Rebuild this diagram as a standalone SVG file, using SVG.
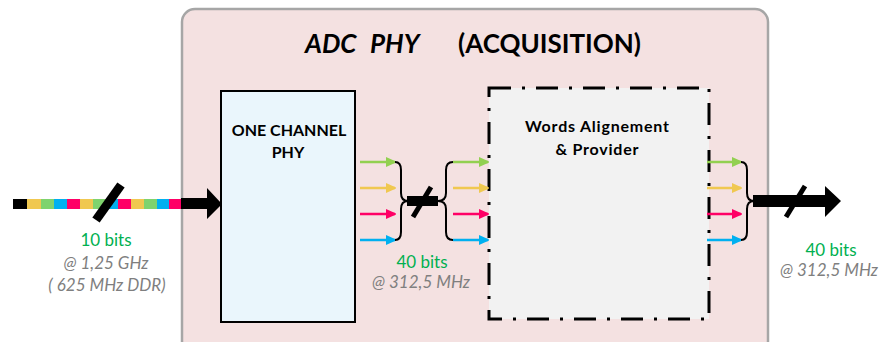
<svg xmlns="http://www.w3.org/2000/svg" width="882" height="342" viewBox="0 0 882 342">
<defs>
<style>
.t{font-family:Lato,"Open Sans",sans-serif}
.g{fill:#00b050;font-size:17px;text-anchor:middle}
.gr{fill:#7f7f7f;font-size:17px;font-style:italic;text-anchor:middle}
.bx{font-weight:bold;font-size:16px;text-anchor:middle;fill:#000}
.ti{font-size:26px;font-weight:bold}
.ar{stroke-width:2.5;fill:none}
.br{fill:none;stroke:#000;stroke-width:2}
</style>
<marker id="mg" markerWidth="10" markerHeight="10" refX="9" refY="5" orient="auto" markerUnits="userSpaceOnUse"><path d="M0,0 L11,5 L0,10 z" fill="#92d050"/></marker>
<marker id="my" markerWidth="10" markerHeight="10" refX="9" refY="5" orient="auto" markerUnits="userSpaceOnUse"><path d="M0,0 L11,5 L0,10 z" fill="#f0c850"/></marker>
<marker id="mp" markerWidth="10" markerHeight="10" refX="9" refY="5" orient="auto" markerUnits="userSpaceOnUse"><path d="M0,0 L11,5 L0,10 z" fill="#ff0066"/></marker>
<marker id="mb" markerWidth="10" markerHeight="10" refX="9" refY="5" orient="auto" markerUnits="userSpaceOnUse"><path d="M0,0 L11,5 L0,10 z" fill="#00b0f0"/></marker>
</defs>
<rect width="882" height="342" fill="#fff"/>
<g id="acquisition">
<rect x="182" y="9" width="586" height="345" rx="13" fill="#f4e1e1" stroke="#a6a6a6" stroke-width="2.5"/>
<text class="t ti" x="305" y="53" font-style="italic">ADC</text>
<text class="t ti" x="370" y="53" font-style="italic">PHY</text>
<text class="t ti" x="458" y="53">(ACQUISITION)</text>
</g>
<g id="one-channel-phy">
<rect x="221" y="91" width="134" height="231" fill="#eaf6fc" stroke="#000" stroke-width="2"/>
<text class="t bx" x="289" y="136">ONE CHANNEL</text>
<text class="t bx" x="288" y="158">PHY</text>
</g>
<g id="words-alignement">
<rect x="489" y="88" width="220" height="231" fill="#f2f2f2" stroke="#000" stroke-width="3" stroke-dasharray="22 11 3 11"/>
<text class="t bx" x="597" y="132" font-size="17" textLength="144" lengthAdjust="spacing">Words Alignement</text>
<text class="t bx" x="597" y="155" font-size="17" textLength="83" lengthAdjust="spacing">&amp; Provider</text>
</g>
<g id="connectors">
<g id="input-bus">
<rect x="13" y="199" width="14" height="10" fill="#000"/>
<rect x="27" y="199" width="14" height="10" fill="#f0c850"/>
<rect x="41" y="199" width="13" height="10" fill="#7fd36e"/>
<rect x="54" y="199" width="13" height="10" fill="#00b0f0"/>
<rect x="67" y="199" width="13" height="10" fill="#ff0066"/>
<rect x="80" y="199" width="13" height="10" fill="#f0c850"/>
<rect x="93" y="199" width="13" height="10" fill="#7fd36e"/>
<rect x="106" y="199" width="12" height="10" fill="#00b0f0"/>
<rect x="118" y="199" width="13" height="10" fill="#ff0066"/>
<rect x="131" y="199" width="13" height="10" fill="#f0c850"/>
<rect x="144" y="199" width="13" height="10" fill="#7fd36e"/>
<rect x="157" y="199" width="12" height="10" fill="#00b0f0"/>
<rect x="169" y="199" width="12" height="10" fill="#ff0066"/>
<path d="M181,198 L207,198 L207,188 L222,204 L207,219 L207,209 L181,209 z" fill="#000"/>
<line x1="121" y1="185" x2="96" y2="220" stroke="#000" stroke-width="9"/>
</g>
<g id="phy-out">
<line class="ar" x1="360" y1="162" x2="395" y2="162" stroke="#92d050" marker-end="url(#mg)"/>
<line class="ar" x1="360" y1="188" x2="395" y2="188" stroke="#f0c850" marker-end="url(#my)"/>
<line class="ar" x1="360" y1="214" x2="395" y2="214" stroke="#ff0066" marker-end="url(#mp)"/>
<line class="ar" x1="360" y1="240" x2="395" y2="240" stroke="#00b0f0" marker-end="url(#mb)"/>
<path class="br" d="M395,162 Q401,162 401,170 L401,193 Q401,201 408,201 Q401,201 401,209 L401,232 Q401,240 395,240"/>
<rect x="407" y="196" width="31" height="10" fill="#000"/>
<line x1="431" y1="187" x2="413" y2="217" stroke="#000" stroke-width="5"/>
<path class="br" d="M453,162 Q446,162 446,170 L446,193 Q446,201 438,201 Q446,201 446,209 L446,232 Q446,240 453,240"/>
<line class="ar" x1="453" y1="162" x2="488" y2="162" stroke="#92d050" marker-end="url(#mg)"/>
<line class="ar" x1="453" y1="188" x2="488" y2="188" stroke="#f0c850" marker-end="url(#my)"/>
<line class="ar" x1="453" y1="214" x2="488" y2="214" stroke="#ff0066" marker-end="url(#mp)"/>
<line class="ar" x1="453" y1="240" x2="488" y2="240" stroke="#00b0f0" marker-end="url(#mb)"/>
</g>
<g id="words-out">
<line class="ar" x1="707" y1="162" x2="741" y2="162" stroke="#92d050" marker-end="url(#mg)"/>
<line class="ar" x1="707" y1="188" x2="741" y2="188" stroke="#f0c850" marker-end="url(#my)"/>
<line class="ar" x1="707" y1="214" x2="741" y2="214" stroke="#ff0066" marker-end="url(#mp)"/>
<line class="ar" x1="707" y1="240" x2="741" y2="240" stroke="#00b0f0" marker-end="url(#mb)"/>
<path class="br" d="M741,162 Q747,162 747,170 L747,193 Q747,201 754,201 Q747,201 747,209 L747,232 Q747,240 741,240"/>
<path d="M753,195 L825,195 L825,186 L841,201 L825,217 L825,207 L753,207 z" fill="#000"/>
<line x1="805" y1="186" x2="786" y2="217" stroke="#000" stroke-width="5"/>
</g>
</g>
<g id="labels">
<text class="t g" x="106" y="246">10 bits</text>
<text class="t gr" x="106" y="269">@ 1,25 GHz</text>
<text class="t gr" x="107" y="291">( 625 MHz DDR)</text>
<text class="t g" x="422" y="268">40 bits</text>
<text class="t gr" x="421" y="288">@ 312,5 MHz</text>
<text class="t g" x="831" y="256">40 bits</text>
<text class="t gr" x="829" y="276">@ 312,5 MHz</text>
</g>
</svg>
